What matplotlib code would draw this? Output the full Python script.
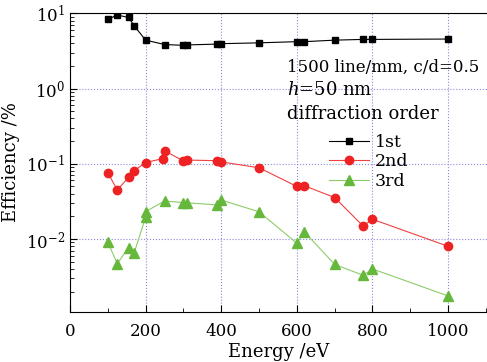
import matplotlib
matplotlib.use('Agg')
import matplotlib.pyplot as plt
from matplotlib.ticker import MultipleLocator, LogLocator, NullFormatter

plt.rcParams.update({
    'font.family': 'DejaVu Serif',
    'mathtext.fontset': 'dejavuserif',
    'font.size': 12,
})

# data
e1 = [100, 125, 155, 170, 200, 250, 300, 310, 390, 400, 500, 600, 620, 700, 775, 800, 1000]
eff1 = [8.3, 9.5, 8.8, 6.8, 4.4, 3.85, 3.75, 3.8, 3.9, 3.95, 4.05, 4.2, 4.2, 4.4, 4.5, 4.5, 4.55]

e2 = [100, 125, 155, 170, 200, 245, 250, 300, 310, 390, 400, 500, 600, 620, 700, 775, 800, 1000]
eff2 = [0.076, 0.045, 0.066, 0.081, 0.104, 0.117, 0.149, 0.109, 0.112, 0.110, 0.106,
        0.0885, 0.050, 0.051, 0.0356, 0.0149, 0.0183, 0.0080]

e3 = [100, 125, 155, 170, 200, 200, 250, 300, 310, 390, 400, 500, 600, 620, 700, 775, 800, 1000]
eff3 = [0.0091, 0.0047, 0.0077, 0.0066, 0.0195, 0.0231, 0.032, 0.0305, 0.0303, 0.0284,
        0.033, 0.023, 0.0088, 0.0124, 0.0046, 0.0033, 0.0040, 0.00175]

labels = ['1st', '2nd', '3rd']

fig = plt.figure(figsize=(4.87, 3.62), dpi=100)
ax = fig.add_axes([0.1437, 0.138, 0.858, 0.827])

l1, = ax.plot(e1, eff1, color='black', lw=0.8, marker='s', ms=5, label=labels[0])
l2, = ax.plot(e2, eff2, color='#f04040', lw=0.8, marker='o', ms=6,
              mfc='#ee2222', mec='#ee2222', label=labels[1])
l3, = ax.plot(e3, eff3, color='#8ccc66', lw=0.8, marker='^', ms=7,
              mfc='#66b83c', mec='#66b83c', label=labels[2])

ax.set_yscale('log')
ax.set_xlim(0, 1105)
ax.set_ylim(1.07e-3, 10.2)

ax.xaxis.set_major_locator(MultipleLocator(200))
ax.xaxis.set_minor_locator(MultipleLocator(100))
ax.yaxis.set_major_locator(LogLocator(base=10, numticks=10))
ax.yaxis.set_minor_locator(LogLocator(base=10, subs=range(2, 10), numticks=10))
ax.yaxis.set_minor_formatter(NullFormatter())

ax.tick_params(which='both', direction='in', top=False, right=False)
ax.tick_params(which='major', length=5, width=0.8, labelsize=12)
ax.tick_params(axis='x', which='major', pad=8)
ax.tick_params(which='minor', length=3, width=0.6)
ax.spines['right'].set_visible(False)

ax.grid(True, which='major', color='#8a8ad8', linestyle=':', linewidth=0.8)

ax.set_xlabel('Energy /eV', fontsize=13, labelpad=2)
ax.set_ylabel('Efficiency /%', fontsize=13, labelpad=4)

ax.text(0.519, 0.819, '1500 line/mm, c/d=0.5', transform=ax.transAxes,
        fontsize=12, va='center', ha='left')
ax.text(0.519, 0.742, '$h$=50 nm', transform=ax.transAxes,
        fontsize=13, va='center', ha='left')
ax.text(0.519, 0.663, 'diffraction order', transform=ax.transAxes,
        fontsize=13, va='center', ha='left')

ax.legend(handles=[l1, l2, l3], loc='upper left', bbox_to_anchor=(0.6, 0.625),
          frameon=False, fontsize=12.5, borderpad=0, labelspacing=0.15,
          handlelength=2.3, handletextpad=0.3)

fig.savefig('out.png', dpi=100)
